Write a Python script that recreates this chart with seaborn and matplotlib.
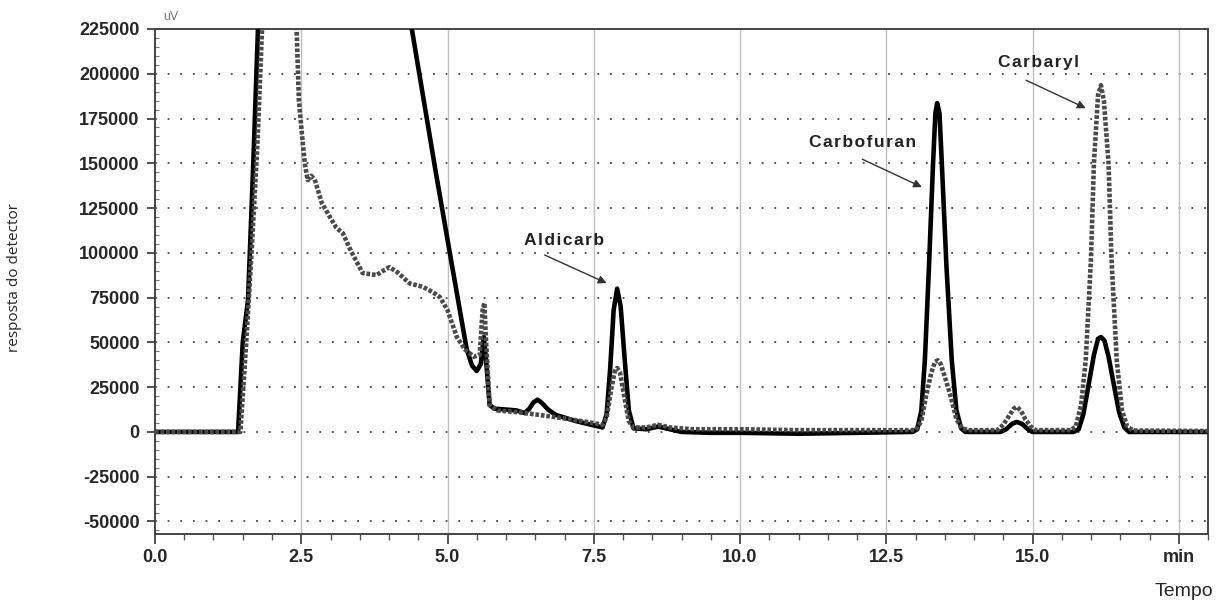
import matplotlib
matplotlib.use("Agg")
import matplotlib.pyplot as plt
import seaborn as sns
import pandas as pd
from matplotlib.ticker import MultipleLocator

# ---- data ----
t_solid = [0.0, 1.0, 1.42, 1.50, 1.59, 1.68, 1.76, 1.80, 4.30, 4.39, 4.80, 5.04,
           5.24, 5.33, 5.42, 5.50, 5.57, 5.62, 5.66, 5.72, 5.80, 6.00, 6.18, 6.32,
           6.40, 6.47, 6.54, 6.62, 6.72, 6.85, 7.20, 7.65, 7.72, 7.78, 7.84, 7.90,
           7.96, 8.03, 8.10, 8.18, 8.40, 8.60, 8.80, 9.00, 9.50, 10.0, 11.0, 12.0,
           12.95, 13.03, 13.10, 13.16, 13.23, 13.30, 13.34, 13.37, 13.41, 13.45,
           13.53, 13.62, 13.70, 13.78, 13.85, 14.45, 14.55, 14.65, 14.73, 14.82,
           14.92, 15.00, 15.70, 15.79, 15.87, 15.96, 16.05, 16.12, 16.17, 16.23,
           16.30, 16.39, 16.48, 16.57, 16.65, 18.0]
v_solid = [0, 0, 0, 50000, 73700, 150000, 225000, 260000, 260000, 225000, 145000,
           99900, 62500, 46000, 37000, 34000, 38000, 53000, 40000, 15000, 13000,
           12500, 12000, 10500, 13000, 16500, 18000, 16000, 12500, 9500, 6000, 2500,
           10000, 35000, 68000, 80000, 70000, 40000, 12000, 2000, 1500, 3000, 1500,
           0, -500, -500, -1000, -500, 0, 1500, 12000, 40000, 92000, 150000, 178000,
           183600, 178000, 150000, 92000, 40000, 12000, 2000, 0, 0, 1500, 4500, 5600,
           4500, 1500, 0, 0, 1500, 10000, 26500, 43000, 52000, 53000, 51000, 42000,
           26500, 11000, 2500, 0, 0]

t_dot = [0.0, 1.0, 1.46, 1.55, 1.65, 1.75, 1.83, 1.87, 2.38, 2.42, 2.46, 2.51,
         2.56, 2.61, 2.67, 2.73, 2.85, 2.99, 3.10, 3.21, 3.35, 3.55, 3.79, 3.90,
         4.01, 4.15, 4.35, 4.58, 4.75, 4.87, 5.00, 5.16, 5.30, 5.45, 5.55, 5.60,
         5.63, 5.66, 5.72, 5.85, 6.20, 6.57, 7.00, 7.40, 7.65, 7.72, 7.80, 7.86,
         7.90, 7.95, 8.02, 8.10, 8.18, 8.40, 8.60, 8.80, 9.20, 10.0, 11.0, 12.0,
         13.00, 13.10, 13.18, 13.27, 13.33, 13.38, 13.43, 13.50, 13.60, 13.70,
         13.80, 13.90, 14.40, 14.50, 14.60, 14.68, 14.73, 14.80, 14.88, 14.97,
         15.05, 15.65, 15.74, 15.83, 15.91, 16.00, 16.05, 16.12, 16.17, 16.22,
         16.30, 16.35, 16.44, 16.53, 16.62, 16.72, 18.0]
v_dot = [0, 0, 0, 45000, 100000, 160000, 225000, 260000, 260000, 225000, 185000,
         167000, 150000, 140600, 143000, 141000, 128000, 120000, 114000, 111000,
         101000, 88700, 87600, 90000, 92000, 89000, 83000, 81000, 78000, 75300,
         68000, 53000, 46000, 42000, 43000, 68000, 72000, 50000, 15000, 12000,
         11000, 9500, 7500, 5500, 4000, 8000, 24000, 34000, 35700, 33000, 20000,
         6000, 2500, 2500, 4000, 2500, 1500, 1500, 1000, 1000, 1000, 6000, 20000,
         33000, 39000, 40000, 38000, 31000, 20000, 7000, 2000, 1000, 1000, 4000,
         9000, 13000, 14000, 12000, 7000, 3000, 1000, 1000, 3000, 15000, 40000,
         97000, 150000, 188000, 193600, 185000, 150000, 97000, 40000, 12000, 3000,
         800, 500]

x_ticks = [0.0, 2.5, 5.0, 7.5, 10.0, 12.5, 15.0, 17.5]
x_tick_labels = ["0.0", "2.5", "5.0", "7.5", "10.0", "12.5", "15.0", "min"]
y_ticks = [-50000, -25000, 0, 25000, 50000, 75000, 100000, 125000, 150000,
           175000, 200000, 225000]
y_tick_labels = [str(v) for v in y_ticks]

peak_names = ["Aldicarb", "Carbofuran", "Carbaryl"]
label_pos = [(7.0, 107000), (12.09, 161800), (15.11, 206500)]
arrow_start = [(6.66, 98800), (12.09, 152300), (14.89, 196400)]
arrow_end = [(7.72, 83100), (13.11, 136700), (15.91, 180800)]

# ---- figure ----
sns.set_theme(style="white")
plt.rcParams["font.family"] = ["Liberation Sans", "DejaVu Sans"]

fig = plt.figure(figsize=(12.16, 6.07), dpi=100)
ax = fig.add_axes([155 / 1216, 1 - 534 / 607, (1208 - 155) / 1216, (534 - 29) / 607])

df_s = pd.DataFrame({"t": t_solid, "v": v_solid})
df_d = pd.DataFrame({"t": t_dot, "v": v_dot})

sns.lineplot(data=df_s, x="t", y="v", ax=ax, sort=False, color="black",
             linewidth=3.3, zorder=3)
sns.lineplot(data=df_d, x="t", y="v", ax=ax, sort=False, color="#4a4a4a",
             linewidth=3.3, linestyle=(0, (0.8, 0.4)), zorder=4)

ax.set_xlim(0, 18.0)
ax.set_ylim(-57000, 225000)

ax.set_xticks(x_ticks)
ax.set_xticklabels(x_tick_labels, fontsize=13, fontweight="bold")
ax.set_yticks(y_ticks)
ax.set_yticklabels(y_tick_labels, fontsize=13, fontweight="bold")
ax.xaxis.set_minor_locator(MultipleLocator(0.5))
ax.yaxis.set_minor_locator(MultipleLocator(5000))

ax.tick_params(axis="x", which="major", direction="out", length=7, width=1.2,
               color="#333333", pad=4, bottom=True)
ax.tick_params(axis="x", which="minor", direction="out", length=4, width=1,
               color="#555555", bottom=True)
ax.tick_params(axis="y", which="major", direction="out", length=6, width=1.2,
               color="#333333", pad=5, left=True)
ax.tick_params(axis="y", which="minor", direction="in", length=3, width=0.8,
               color="#777777", left=True)

# grid: dotted horizontal, faint vertical
for yv in y_ticks:
    ax.axhline(yv, color="#444444", linewidth=1.3, linestyle=(0, (1, 6)), zorder=1)
for xv in x_ticks[1:]:
    ax.axvline(xv, color="#c0c0c0", linewidth=1.0, zorder=1)

for side in ["left", "bottom", "top", "right"]:
    ax.spines[side].set_visible(True)
    ax.spines[side].set_color("#444444")
    ax.spines[side].set_linewidth(1.4)

ax.set_xlabel("")
ax.set_ylabel("")

# peak annotations (letter-spaced like the original)
for name, lp, a0, a1 in zip(peak_names, label_pos, arrow_start, arrow_end):
    spaced = "\u200a".join(name)
    ax.text(lp[0], lp[1], spaced, ha="center", va="center", fontsize=12.5,
            fontweight="bold", color="#222222", zorder=5)
    ax.annotate("", xy=a1, xytext=a0,
                arrowprops=dict(arrowstyle="-|>", color="#333333", lw=1.0,
                                mutation_scale=12, shrinkA=0, shrinkB=0), zorder=5)

fig.text(163 / 1216, 1 - 17 / 607, "uV", fontsize=9, color="#777777",
         ha="left", va="center")
fig.text(15 / 1216, 1 - 277 / 607, "resposta do detector", rotation=90,
         fontsize=11, ha="center", va="center", family=["Open Sans", "DejaVu Sans"])
fig.text(1213 / 1216, 1 - 592 / 607, "Tempo", fontsize=14, ha="right",
         va="center")

fig.savefig("out.png", dpi=100, facecolor="white")
